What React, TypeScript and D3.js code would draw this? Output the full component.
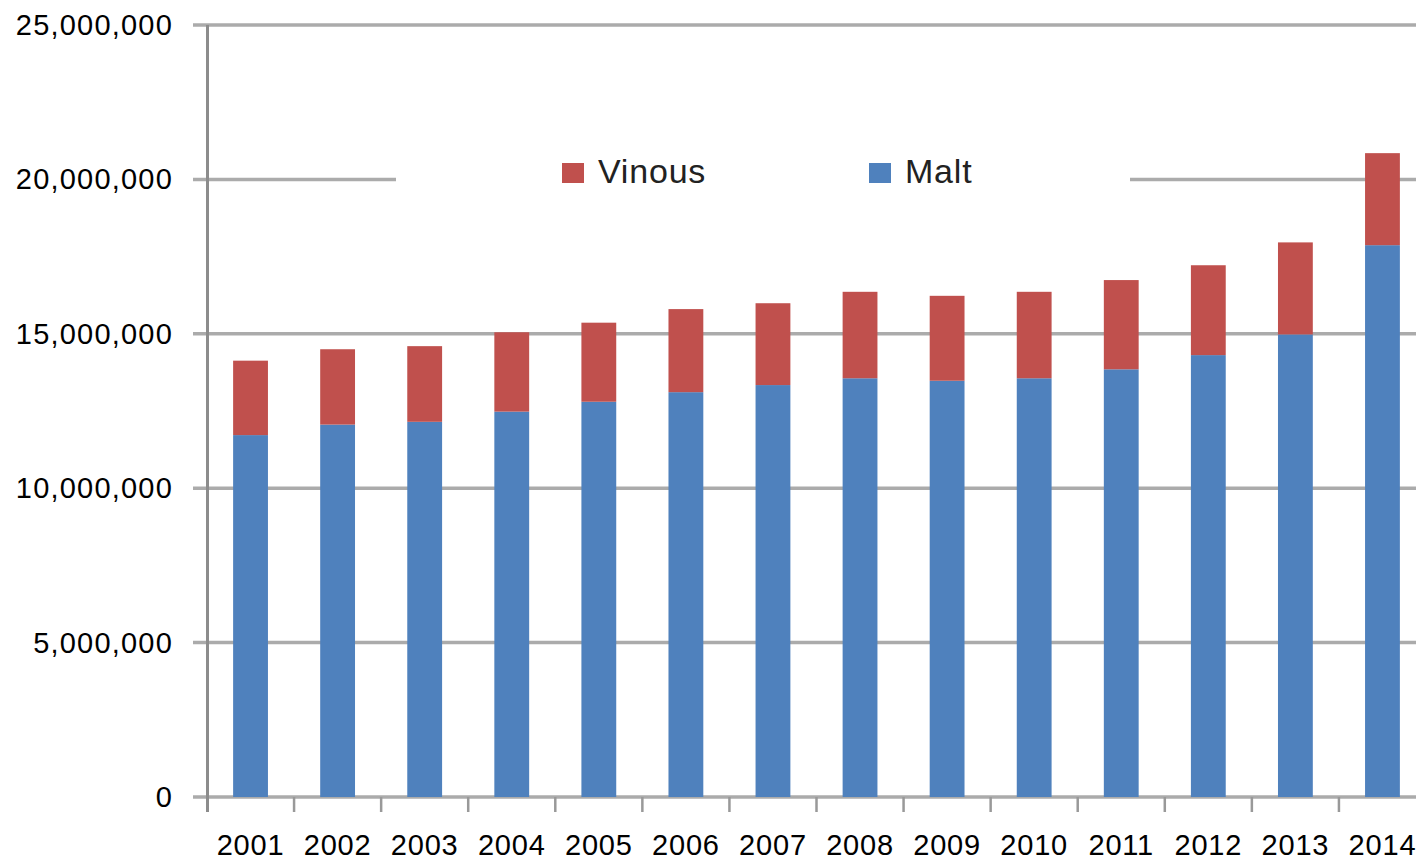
import * as d3 from "d3";

const years = ["2001", "2002", "2003", "2004", "2005", "2006", "2007", "2008", "2009", "2010", "2011", "2012", "2013", "2014"];
// stacked: malt at the bottom, vinous on top
const malt = [11.72, 12.06, 12.15, 12.48, 12.8, 13.11, 13.34, 13.56, 13.48, 13.56, 13.85, 14.31, 14.98, 17.87].map((v) => v * 1e6);
const vinous = [2.41, 2.44, 2.45, 2.57, 2.56, 2.69, 2.65, 2.8, 2.75, 2.8, 2.89, 2.91, 2.98, 2.98].map((v) => v * 1e6);
const yTicks = [0, 5e6, 10e6, 15e6, 20e6, 25e6];
const legendItems = [
  { label: "Vinous", color: "#C0504D" },
  { label: "Malt", color: "#4F81BD" },
];

const W = 1416;
const H = 860;
const FONT = "'Liberation Sans', Arial, sans-serif";

export default function App() {
  const x = d3.scaleBand<string>().domain(years).range([207, 1426]).paddingInner(0.6).paddingOuter(0.3);
  const y = d3.scaleLinear().domain([0, 25e6]).range([797, 25]);
  const band = d3.scaleBand<string>().domain(years).range([207, 1426]);
  const fmt = d3.format(",");

  const rows = years.map((yr, i) => ({ yr, malt: malt[i], vinous: vinous[i] }));
  const stack = d3.stack<(typeof rows)[number]>().keys(["malt", "vinous"]);
  const series = stack(rows as any);
  const colors: Record<string, string> = { malt: "#4F81BD", vinous: "#C0504D" };

  return (
    <svg
      width={W}
      height={H}
      style={{ position: "absolute", left: 0, top: 0, background: "#fff" }}
      fontFamily={FONT}
    >
      {/* gridlines; 20M one is broken where the legend sits */}
      {yTicks.map((t) =>
        t === 20e6 ? (
          <g key={t}>
            <line x1={193} x2={396} y1={y(t)} y2={y(t)} stroke="#ababab" strokeWidth={3.5} />
            <line x1={1130} x2={W} y1={y(t)} y2={y(t)} stroke="#ababab" strokeWidth={3.5} />
          </g>
        ) : (
          <line key={t} x1={193} x2={W} y1={y(t)} y2={y(t)} stroke="#ababab" strokeWidth={3.5} />
        ),
      )}

      {/* bars */}
      {series.map((s) => (
        <g key={s.key} fill={colors[s.key]}>
          {s.map((d, i) => (
            <rect
              key={years[i]}
              x={x(years[i])}
              y={y(d[1])}
              width={x.bandwidth()}
              height={y(d[0]) - y(d[1])}
            />
          ))}
        </g>
      ))}

      {/* y axis line and x ticks */}
      <line x1={207.5} x2={207.5} y1={25} y2={812} stroke="#8c8c8c" strokeWidth={3} />
      {years.slice(1).map((yr) => (
        <line
          key={yr}
          x1={band(yr)}
          x2={band(yr)}
          y1={797}
          y2={812}
          stroke="#999"
          strokeWidth={2.5}
        />
      ))}

      {/* y labels */}
      {yTicks.map((t) => (
        <text
          key={t}
          x={173}
          y={y(t) + 10}
          textAnchor="end"
          fontSize={29}
          letterSpacing={1.2}
          fill="#000"
        >
          {fmt(t)}
        </text>
      ))}

      {/* x labels */}
      {years.map((yr) => (
        <text
          key={yr}
          x={(band(yr) ?? 0) + band.bandwidth() / 2}
          y={855}
          textAnchor="middle"
          fontSize={29}
          letterSpacing={0.8}
          fill="#000"
        >
          {yr}
        </text>
      ))}

      {/* legend */}
      {legendItems.map((it, i) => {
        const lx = i === 0 ? 562 : 869;
        return (
          <g key={it.label} transform={`translate(${lx},163)`}>
            <rect width={22} height={20} fill={it.color} />
            <text x={36} y={20} fontSize={34} letterSpacing={0.8} fill="#222">
              {it.label}
            </text>
          </g>
        );
      })}
    </svg>
  );
}
